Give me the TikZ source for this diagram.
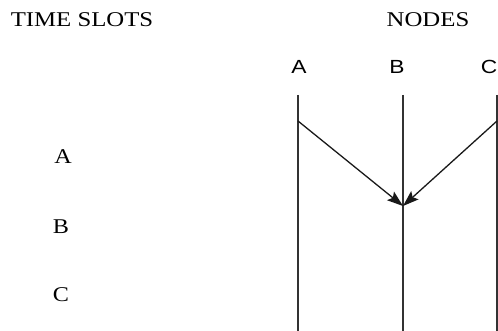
\documentclass[tikz,border=0pt]{standalone}
\usepackage{fontspec}
\setmainfont{Liberation Serif}
\newfontfamily\labelsans{Liberation Sans}
\usetikzlibrary{arrows.meta}
\tikzset{
  heading/.style={inner sep=0pt, font=\fontsize{21}{24}\selectfont, xscale=1.18},
  slot/.style={inner sep=0pt, font=\fontsize{21}{24}\selectfont, xscale=1.15},
  nodename/.style={inner sep=0pt, font=\labelsans\fontsize{19}{22}\selectfont, xscale=1.2},
  timeline/.style={draw=black!80, line width=1.5pt},
  message/.style={draw=black!90, line width=1.3pt, -{Stealth[length=16pt,width=11pt,inset=3pt]}}
}
\begin{document}
\begin{tikzpicture}[x=1pt, y=-1pt]
  \useasboundingbox (0,0) rectangle (498,331);
  % headings
  \node[heading] (ts) at (82,20) {TIME SLOTS};
  \node[heading] (nd) at (428,20) {NODES};
  % node names above the timelines
  \node[nodename] (na) at (299,67) {A};
  \node[nodename] (nb) at (397,67) {B};
  \node[nodename] (nc) at (489,67) {C};
  % time slot labels
  \node[slot] (sa) at (63,157) {A};
  \node[slot] (sb) at (61,227) {B};
  \node[slot] (sc) at (61,295) {C};
  % timelines
  \coordinate (at) at (298,95);  \coordinate (ab) at (298,331);
  \coordinate (bt) at (403,95);  \coordinate (bb) at (403,331);
  \coordinate (ct) at (497,95);  \coordinate (cb) at (497,331);
  \draw[timeline] (at) -- (ab);
  \draw[timeline] (bt) -- (bb);
  \draw[timeline] (ct) -- (cb);
  % transmissions from A and C reaching B
  \coordinate (as) at (298,121);
  \coordinate (cs) at (497,121);
  \coordinate (bh) at (403,206);
  \draw[message] (as) -- (bh);
  \draw[message] (cs) -- (bh);
\end{tikzpicture}
\end{document}
